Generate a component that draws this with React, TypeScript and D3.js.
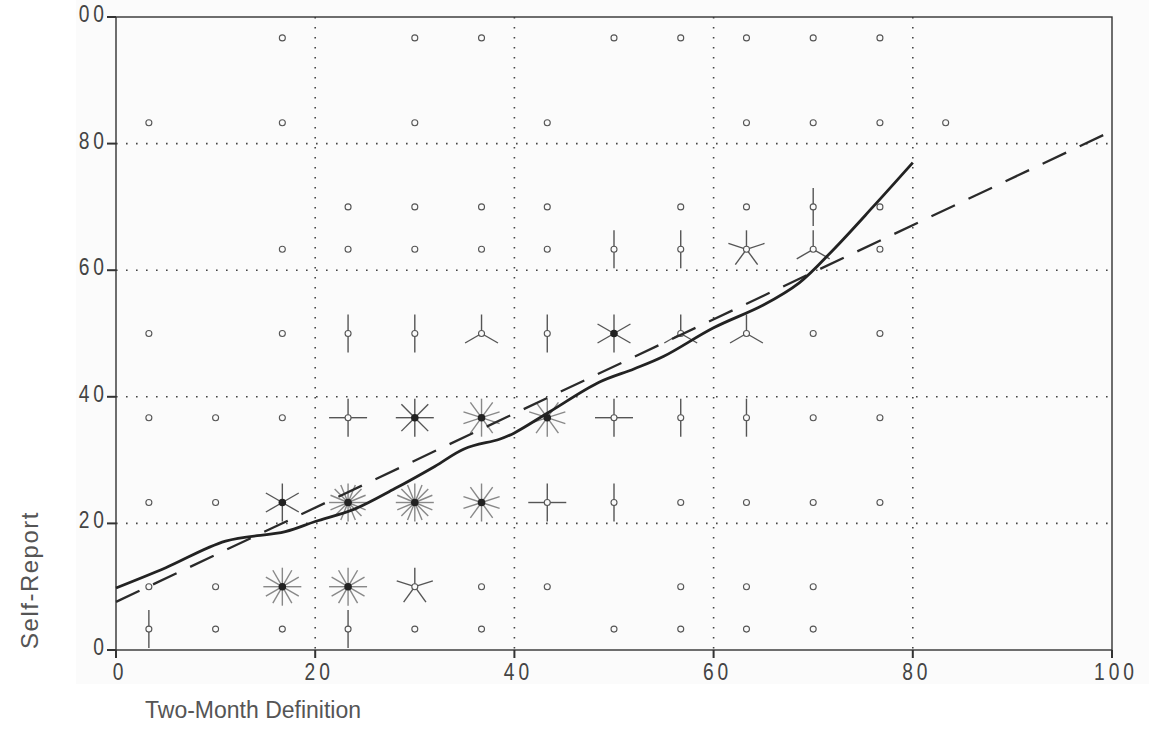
import React from 'react';
import * as d3 from 'd3';

// score levels on both axes (fifteenths of 100)
const yLevels = [96.7, 83.3, 70, 63.3, 50, 36.7, 23.3, 10, 3.3];
const rowX = [
  [16.7, 30, 36.7, 50, 56.7, 63.3, 70, 76.7],
  [3.3, 16.7, 30, 43.3, 63.3, 70, 76.7, 83.3],
  [23.3, 30, 36.7, 43.3, 56.7, 63.3, 70, 76.7],
  [16.7, 23.3, 30, 36.7, 43.3, 50, 56.7, 63.3, 70, 76.7],
  [3.3, 16.7, 23.3, 30, 36.7, 43.3, 50, 56.7, 63.3, 70, 76.7],
  [3.3, 10, 16.7, 23.3, 30, 36.7, 43.3, 50, 56.7, 63.3, 70, 76.7],
  [3.3, 10, 16.7, 23.3, 30, 36.7, 43.3, 50, 56.7, 63.3, 70, 76.7],
  [3.3, 10, 16.7, 23.3, 30, 36.7, 43.3, 56.7, 63.3, 70],
  [3.3, 10, 16.7, 23.3, 30, 36.7, 50, 56.7, 63.3, 70],
];
// number of cases at each point (sunflower petals)
const rowCount = [
  [1, 1, 1, 1, 1, 1, 1, 1],
  [1, 1, 1, 1, 1, 1, 1, 1],
  [1, 1, 1, 1, 1, 1, 2, 1],
  [1, 1, 1, 1, 1, 2, 2, 5, 3, 1],
  [1, 1, 2, 2, 3, 2, 6, 3, 3, 1, 1],
  [1, 1, 1, 4, 8, 10, 10, 4, 2, 2, 1, 1],
  [1, 1, 6, 16, 16, 10, 4, 2, 1, 1, 1, 1],
  [1, 1, 12, 12, 5, 1, 1, 1, 1, 1],
  [2, 1, 1, 2, 1, 1, 1, 1, 1, 1],
];

// smoothed curve (solid)
const smoothX = [0, 5, 11, 17, 20, 24, 28, 32, 35, 38.5, 40, 43.5, 48.5, 52, 55, 60, 65, 68.6, 72, 76, 80];
const smoothY = [9.8, 13, 17.2, 18.7, 20.3, 22.3, 25.5, 29, 31.8, 33.3, 34.3, 37.6, 42.3, 44.4, 46.4, 50.9, 54.5, 58, 63.2, 70, 77];

// linear fit (dashed)
const fitX = [0, 100];
const fitY = [7.6, 82];

const xTicks = [0, 20, 40, 60, 80, 100];
const yTicks = [0, 20, 40, 60, 80, 100];
const gridVals = [20, 40, 60, 80];

const W = 1149;
const H = 751;

export default function App() {
  const x = d3.scaleLinear().domain([0, 100]).range([116, 1112]);
  const y = d3.scaleLinear().domain([0, 100]).range([650, 17]);

  const points = yLevels.flatMap((yv, i) =>
    rowX[i].map((xv, j) => ({ x: xv, y: yv, n: rowCount[i][j] }))
  );

  const smoothLine = d3
    .line<[number, number]>()
    .x(d => x(d[0]))
    .y(d => y(d[1]))
    .curve(d3.curveCatmullRom.alpha(0.5));
  const fitLine = d3.line<[number, number]>().x(d => x(d[0])).y(d => y(d[1]));
  const smoothPath = smoothLine(smoothX.map((v, i) => [v, smoothY[i]]));
  const fitPath = fitLine(fitX.map((v, i) => [v, fitY[i]]));

  const petal = 19;
  // narrow, letter-spaced plotter digits
  const tickFont = '"Liberation Sans", Arial, sans-serif';
  const squeeze = 0.8;

  return (
    <svg
      width={W}
      height={H}
      style={{ position: 'absolute', left: 0, top: 0, background: '#fff' }}
    >
      <defs>
        <clipPath id="scan">
          <rect x={77} y={0} width={W - 77} height={690} />
        </clipPath>
      </defs>
      <rect x={76} y={0} width={W - 76} height={684} fill="#fbfbfb" />

      {/* dotted grid */}
      <g stroke="#444" strokeWidth={1.6} strokeDasharray="1.6,8.4">
        {gridVals.map(v => (
          <line key={'gx' + v} x1={x(v)} x2={x(v)} y1={y(100)} y2={y(0)} />
        ))}
        {gridVals.map(v => (
          <line key={'gy' + v} x1={x(0)} x2={x(100)} y1={y(v)} y2={y(v)} />
        ))}
      </g>

      {/* frame */}
      <rect
        x={x(0)}
        y={y(100)}
        width={x(100) - x(0)}
        height={y(0) - y(100)}
        fill="none"
        stroke="#333"
        strokeWidth={1.4}
      />

      {/* ticks */}
      <g stroke="#333" strokeWidth={2}>
        {xTicks.map(v => (
          <line key={'tx' + v} x1={x(v)} x2={x(v)} y1={y(0)} y2={y(0) + 8} />
        ))}
        {yTicks.map(v => (
          <line key={'ty' + v} x1={x(0) - 9} x2={x(0)} y1={y(v)} y2={y(v)} />
        ))}
      </g>

      {/* tick labels */}
      <g clipPath="url(#scan)" fill="#444" fontFamily={tickFont} fontSize={24} letterSpacing={5}>
        {xTicks.map(v => (
          <g key={'lx' + v} transform={`translate(${x(v) + 4},${y(0) + 30}) scale(${squeeze},1)`}>
            <text textAnchor="middle">{v}</text>
          </g>
        ))}
        {yTicks.map(v => (
          <g key={'ly' + v} transform={`translate(${x(0) - 8},${y(v) + 5}) scale(${squeeze},1)`}>
            <text textAnchor="end">{v}</text>
          </g>
        ))}
      </g>

      {/* sunflowers */}
      <g>
        {points.map((p, i) => {
          const cx = x(p.x);
          const cy = y(p.y);
          const col = p.n >= 10 ? '#888' : '#555';
          const petals =
            p.n > 1
              ? d3.range(1, p.n + 1).map(k => {
                  const a = (2 * Math.PI * k) / p.n;
                  return (
                    <line
                      key={k}
                      x1={cx}
                      y1={cy}
                      x2={cx + petal * Math.sin(a)}
                      y2={cy - petal * Math.cos(a)}
                      stroke={col}
                      strokeWidth={1.4}
                    />
                  );
                })
              : null;
          return (
            <g key={i}>
              {petals}
              {p.n >= 6 ? (
                <circle cx={cx} cy={cy} r={3.8} fill="#222" />
              ) : (
                <circle cx={cx} cy={cy} r={3} fill="#fbfbfb" stroke="#555" strokeWidth={1.1} />
              )}
            </g>
          );
        })}
      </g>

      {/* fitted lines */}
      <path d={fitPath ?? ''} fill="none" stroke="#2a2a2a" strokeWidth={2.3} strokeDasharray="26,15" />
      <path d={smoothPath ?? ''} fill="none" stroke="#222" strokeWidth={2.8} strokeLinejoin="round" />

      {/* axis titles */}
      <text
        transform="translate(38,580) rotate(-90)"
        textAnchor="middle"
        fontFamily='"Liberation Sans", Arial, sans-serif'
        fontSize={24}
        letterSpacing={1.5}
        fill="#555"
      >
        Self-Report
      </text>
      <text
        x={145}
        y={718}
        fontFamily='"Liberation Sans", Arial, sans-serif'
        fontSize={23}
        fill="#555"
      >
        Two-Month Definition
      </text>
    </svg>
  );
}
